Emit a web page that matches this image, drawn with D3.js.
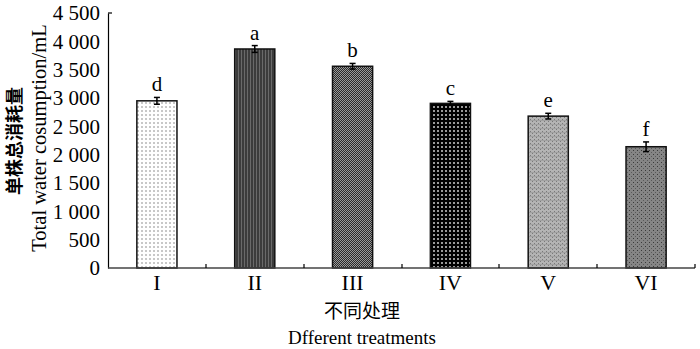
<!DOCTYPE html>
<html>
<head>
<meta charset="utf-8">
<script src="https://cdn.jsdelivr.net/npm/d3@7"></script>
<style>
  body { margin: 0; background: #fff; }
  text { font-family: "Liberation Serif", "Times New Roman", serif; fill: #000; }
</style>
</head>
<body>
<div id="chart"></div>
<script>
// dados
const treatments = ["I", "II", "III", "IV", "V", "VI"];
const waterUse = [2950, 3865, 3560, 2905, 2680, 2140];
const errors = [60, 60, 50, 35, 50, 85];
const letters = ["d", "a", "b", "c", "e", "f"];
const yTicks = [0, 500, 1000, 1500, 2000, 2500, 3000, 3500, 4000, 4500];

const W = 700, H = 349;
const margin = { top: 13, right: 5, bottom: 81, left: 108 };
const width = W - margin.left - margin.right;
const height = H - margin.top - margin.bottom;

const svg = d3.select("#chart").append("svg")
  .attr("width", W)
  .attr("height", H);

// padrões de preenchimento
const defs = svg.append("defs");

function pattern(id, size, bg, marks) {
  const p = defs.append("pattern")
    .attr("id", id)
    .attr("patternUnits", "userSpaceOnUse")
    .attr("width", size)
    .attr("height", size);
  p.append("rect").attr("width", size).attr("height", size).attr("fill", bg);
  marks.forEach(m => p.append("rect")
    .attr("x", m[0]).attr("y", m[1]).attr("width", m[2]).attr("height", m[3]).attr("fill", m[4]));
}

pattern("p0", 4, "#fff", [[1, 1, 2, 2, "#c8c8c8"]]);
pattern("p1", 3, "#3c3c3c", [[1, 0, 1, 3, "#6a6a6a"]]);
pattern("p2", 2, "#9a9a9a", [[0, 0, 1, 1, "#2a2a2a"], [1, 1, 1, 1, "#2a2a2a"]]);
pattern("p3", 4, "#000", [[1, 1, 2, 2, "#9a9a9a"]]);
pattern("p4", 4, "#b4b4b4", [[0, 0, 1, 1, "#7a7a7a"], [2, 2, 1, 1, "#7a7a7a"], [0, 3, 4, 1, "#a0a0a0"]]);
pattern("p5", 4, "#858585", [[1, 1, 1, 1, "#3a3a3a"], [3, 3, 1, 1, "#5a5a5a"]]);

const g = svg.append("g")
  .attr("transform", `translate(${margin.left},${margin.top})`);

// escalas
const x = d3.scaleBand()
  .domain(treatments)
  .range([0, width])
  .paddingInner(0.59)
  .paddingOuter(0.295);

const y = d3.scaleLinear()
  .domain([0, 4500])
  .range([height, 0]);

const data = treatments.map((t, i) => ({ t, v: waterUse[i], e: errors[i], l: letters[i], i }));

// barras
g.selectAll(".bar")
  .data(data)
  .join("rect")
  .attr("class", "bar")
  .attr("x", d => x(d.t))
  .attr("y", d => y(d.v))
  .attr("width", x.bandwidth())
  .attr("height", d => height - y(d.v))
  .attr("fill", d => `url(#p${d.i})`)
  .attr("stroke", "#111")
  .attr("stroke-width", 1.5);

// barras de erro
const eb = g.selectAll(".err")
  .data(data)
  .join("g")
  .attr("class", "err")
  .attr("stroke", "#000")
  .attr("stroke-width", 1.5);

eb.append("line")
  .attr("x1", d => x(d.t) + x.bandwidth() / 2)
  .attr("x2", d => x(d.t) + x.bandwidth() / 2)
  .attr("y1", d => y(d.v + d.e))
  .attr("y2", d => y(d.v - d.e));
eb.append("line")
  .attr("x1", d => x(d.t) + x.bandwidth() / 2 - 3)
  .attr("x2", d => x(d.t) + x.bandwidth() / 2 + 3)
  .attr("y1", d => y(d.v + d.e))
  .attr("y2", d => y(d.v + d.e));
eb.append("line")
  .attr("x1", d => x(d.t) + x.bandwidth() / 2 - 3)
  .attr("x2", d => x(d.t) + x.bandwidth() / 2 + 3)
  .attr("y1", d => y(d.v - d.e))
  .attr("y2", d => y(d.v - d.e));

// letras de significância
g.selectAll(".sig")
  .data(data)
  .join("text")
  .attr("class", "sig")
  .attr("x", d => x(d.t) + x.bandwidth() / 2)
  .attr("y", d => y(d.v + d.e) - 6)
  .attr("text-anchor", "middle")
  .style("font-size", "21px")
  .text(d => d.l);

// eixo y
const yAxis = g.append("g")
  .call(d3.axisLeft(y)
    .tickValues(yTicks)
    .tickSize(0)
    .tickPadding(8)
    .tickFormat(d => d3.format(",")(d).replace(",", " ")));
yAxis.select(".domain").attr("stroke", "#000").attr("stroke-width", 1.2);
yAxis.selectAll(".tick text")
  .style("font-size", "21px")
  .style("font-family", "'Liberation Serif', serif");
g.append("line")
  .attr("x1", 0).attr("x2", 4)
  .attr("y1", y(4500)).attr("y2", y(4500))
  .attr("stroke", "#000").attr("stroke-width", 1.2);

// eixo x
const step = x.step();
const xAxis = g.append("g")
  .attr("transform", `translate(0,${height})`);
xAxis.append("line")
  .attr("x1", 0).attr("x2", width)
  .attr("stroke", "#444").attr("stroke-width", 1.5);
xAxis.selectAll(".xt")
  .data(d3.range(1, treatments.length + 1))
  .join("line")
  .attr("class", "xt")
  .attr("x1", i => Math.round(i * step)).attr("x2", i => Math.round(i * step))
  .attr("y1", 0).attr("y2", -4)
  .attr("stroke", "#000").attr("stroke-width", 1.2);
xAxis.selectAll(".xl")
  .data(treatments)
  .join("text")
  .attr("class", "xl")
  .attr("x", d => x(d) + x.bandwidth() / 2)
  .attr("y", 22)
  .attr("text-anchor", "middle")
  .style("font-size", "22px")
  .text(d => d);

// títulos dos eixos
svg.append("text")
  .attr("x", 362).attr("y", 318)
  .attr("text-anchor", "middle")
  .style("font-family", "'Noto Sans CJK SC', sans-serif")
  .style("font-size", "19px")
  .text("不同处理");
svg.append("text")
  .attr("x", 362).attr("y", 344)
  .attr("text-anchor", "middle")
  .style("font-size", "19px")
  .text("Dfferent treatments");

svg.append("text")
  .attr("transform", "translate(13,141) rotate(-90)")
  .attr("text-anchor", "middle")
  .attr("dominant-baseline", "central")
  .style("font-family", "'Noto Sans CJK SC', sans-serif")
  .style("font-weight", "bold")
  .style("font-size", "18px")
  .text("单株总消耗量");
svg.append("text")
  .attr("transform", "translate(46,138) rotate(-90)")
  .attr("text-anchor", "middle")
  .style("font-size", "20.5px")
  .text("Total water cosumption/mL");
</script>
</body>
</html>
